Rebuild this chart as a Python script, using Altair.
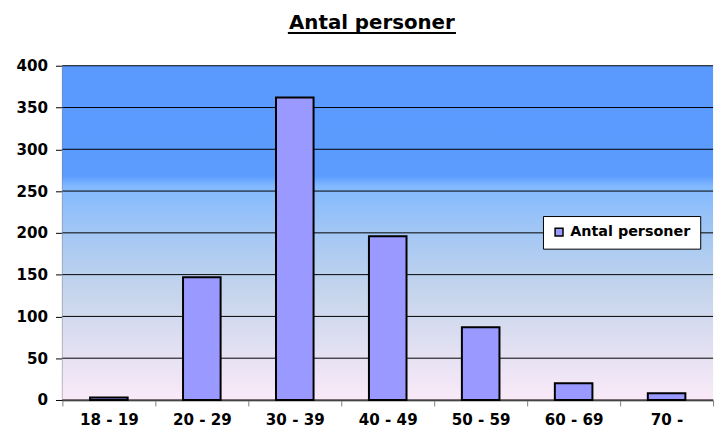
import altair as alt
import pandas as pd

categories = ["18 - 19", "20 - 29", "30 - 39", "40 - 49", "50 - 59", "60 - 69", "70 -"]
values = [3, 147, 362, 196, 87, 20, 8]
series_name = "Antal personer"
y_ticks = [0, 50, 100, 150, 200, 250, 300, 350, 400]

W, H = 658, 338
FONT = "DejaVu Sans"
FS = 15.3

df = pd.DataFrame({"cat": categories, "val": values, "series": [series_name] * len(categories)})
grid_df = pd.DataFrame({"v": y_ticks})
one = pd.DataFrame({"a": [0]})

xscale = alt.Scale(domain=categories, paddingInner=0, paddingOuter=0)
yscale = alt.Scale(domain=[0, 400], nice=False)

grad = alt.LinearGradient(
    gradient="linear", x1=0, y1=0, x2=0, y2=1,
    stops=[
        alt.GradientStop(color="#5A9AFF", offset=0),
        alt.GradientStop(color="#5C9CFF", offset=0.33),
        alt.GradientStop(color="#82B9FF", offset=0.36),
        alt.GradientStop(color="#A3C7F4", offset=0.5),
        alt.GradientStop(color="#C6D5EC", offset=0.68),
        alt.GradientStop(color="#E2E0F2", offset=0.85),
        alt.GradientStop(color="#FAEAF8", offset=1),
    ],
)

bg = alt.Chart(one).mark_rect(fill=grad).encode(
    x=alt.value(0), x2=alt.value(W), y=alt.value(0), y2=alt.value(H)
)

grid = alt.Chart(grid_df).mark_rule(color="#000000", strokeWidth=1).encode(
    y=alt.Y("v:Q", scale=yscale),
    x=alt.value(0), x2=alt.value(W),
)

bars = alt.Chart(df).mark_bar(size=38, stroke="#000000", strokeWidth=2).encode(
    x=alt.X("cat:N", scale=xscale, sort=categories, title=None,
            axis=alt.Axis(labelAngle=0, tickBand="extent", labelFontSize=FS, labelFontWeight="bold",
                          labelFont=FONT, labelColor="#000000", domainColor="#808080", domainWidth=2,
                          tickColor="#808080", tickWidth=1, tickSize=6, labelPadding=7, grid=False)),
    y=alt.Y("val:Q", scale=yscale, title=None,
            axis=alt.Axis(values=y_ticks, labelFontSize=FS, labelFontWeight="bold", labelFont=FONT,
                          labelColor="#000000", domainColor="#808080", domainWidth=2,
                          tickColor="#000000", tickWidth=1, tickSize=7, labelPadding=8, grid=False)),
    color=alt.Color("series:N", scale=alt.Scale(domain=[series_name], range=["#9999FF"]),
                    legend=alt.Legend(title=None, orient="none", legendX=486, legendY=152,
                                      fillColor="#FFFFFF", strokeColor="#000000", padding=9,
                                      symbolType="square", symbolSize=64, symbolStrokeColor="#000000",
                                      symbolStrokeWidth=1.5, labelFontSize=14.5, labelFontWeight="bold",
                                      labelFont=FONT, labelColor="#000000", symbolOffset=0, labelOffset=4,
                                      labelLimit=200)),
)

title = alt.Chart(one).mark_text(
    text="Antal personer", fontSize=20, fontWeight="bold", font=FONT, color="#000000",
    align="center", baseline="alphabetic"
).encode(x=alt.value(313), y=alt.value(-37))

underline = alt.Chart(one).mark_rule(color="#000000", strokeWidth=2).encode(
    x=alt.value(228), x2=alt.value(398), y=alt.value(-33)
)

chart = alt.layer(bg, grid, bars, title, underline).properties(
    width=W, height=H,
    autosize=alt.AutoSizeParams(type="none"),
    padding={"left": 55, "top": 56, "right": 6, "bottom": 30},
).configure_view(stroke=None)

chart.save("out.html", embed_options={"renderer": "svg", "actions": False})
